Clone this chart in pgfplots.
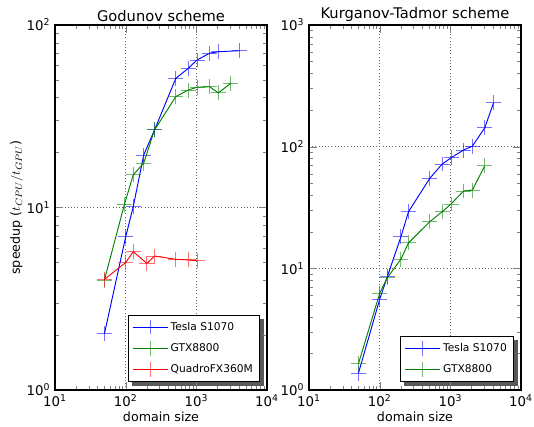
\documentclass[border=0pt]{standalone}
\usepackage{fontspec}
\setmainfont{DejaVu Sans}
\usepackage{pgfplots}
\pgfplotsset{compat=1.18}
\usetikzlibrary{backgrounds}

\definecolor{mplblue}{RGB}{0,0,255}
\definecolor{mplgreen}{RGB}{0,128,0}
\definecolor{mplred}{RGB}{255,0,0}

\pgfplotsset{
  every axis/.append style={
    scale only axis,
    width=159pt, height=273.75pt,
    xmin=10, xmax=10000,
    xtick={10,100,1000,10000},
    xticklabels={10\textsuperscript{1},10\textsuperscript{2},10\textsuperscript{3},10\textsuperscript{4}},
    tick align=inside,
    tick pos=both,
    major tick length=6pt,
    minor tick length=3pt,
    axis line style={black, line width=0.8pt},
    grid=major,
    major grid style={black!60, dotted, line width=0.5pt},
    tick label style={font=\fontsize{10}{11}\selectfont},
    label style={font=\fontsize{9.5}{10}\selectfont},
    title style={font=\fontsize{11}{12}\selectfont, yshift=-7pt},
    xlabel={domain size},
    xlabel style={yshift=3pt},
    legend cell align=left,
    legend style={font=\fontsize{8}{9.5}\selectfont, draw=black, line width=0.8pt, fill=white,
      row sep=4.5pt, inner xsep=3pt, inner ysep=3pt},
  },
  run/.style={line width=0.7pt, mark=+, mark size=5.6pt,
    mark options={solid, line width=0.7pt, opacity=0.55}},
}
\pgfplotsset{
  legend image code/.code={
    \draw[#1] (0pt,0pt) -- (26pt,0pt);
    \draw[#1, only marks] plot coordinates {(13pt,0pt)};
  },
}

\begin{document}
\begin{tikzpicture}
\useasboundingbox (-41.25pt,-27.75pt) rectangle (359.25pt,292.5pt);

\begin{loglogaxis}[
  ymin=1, ymax=100,
  ytick={1,10,100},
  yticklabels={10\textsuperscript{0},10\textsuperscript{1},10\textsuperscript{2}},
  title={Godunov scheme},
  ylabel={speedup ($t_{CPU}/t_{GPU}$)},
  ylabel style={yshift=-4pt},
  legend style={at={(0.967,0.022)}, anchor=south east, name=legA},
]
\addplot[run, color=mplblue] coordinates {
  (50,2.03) (100,6.9) (128,10.1) (180,19.4) (256,26.6) (512,51) (768,57.9)
  (1024,64.3) (1536,70) (2048,71.4) (4096,72.3)
};
\addlegendentry{Tesla S1070}
\addplot[run, color=mplgreen] coordinates {
  (50,4.0) (96,10.4) (128,15.1) (180,17.5) (256,26.6) (512,40.5) (768,44)
  (1024,45.6) (1536,45.9) (2048,42.5) (3072,47.9)
};
\addlegendentry{GTX8800}
\addplot[run, color=mplred] coordinates {
  (50,4.04) (100,4.99) (128,5.73) (200,4.94) (256,5.42) (512,5.2) (768,5.16) (1024,5.12)
};
\addlegendentry{QuadroFX360M}
\end{loglogaxis}

\begin{loglogaxis}[xshift=190.5pt,
  ymin=1, ymax=1000,
  ytick={1,10,100,1000},
  yticklabels={10\textsuperscript{0},10\textsuperscript{1},10\textsuperscript{2},10\textsuperscript{3}},
  title={Kurganov-Tadmor scheme},
  legend style={at={(0.967,0.022)}, anchor=south east, name=legB},
]
\addplot[run, color=mplblue] coordinates {
  (50,1.37) (100,5.56) (128,8.5) (200,18.2) (256,29.2) (512,55) (768,72)
  (1024,81) (1536,93.8) (2048,101) (3072,143) (4096,230)
};
\addlegendentry{Tesla S1070}
\addplot[run, color=mplgreen] coordinates {
  (50,1.64) (100,6.23) (128,8.37) (200,11.9) (256,16.2) (512,24.2) (768,29.2)
  (1024,33.8) (1536,43.2) (2048,44) (3072,69.7)
};
\addlegendentry{GTX8800}
\end{loglogaxis}

\begin{scope}[on background layer]
  \fill[black!65] ([shift={(3pt,-3pt)}]legA.south west) rectangle ([shift={(3pt,-3pt)}]legA.north east);
  \fill[black!65] ([shift={(3pt,-3pt)}]legB.south west) rectangle ([shift={(3pt,-3pt)}]legB.north east);
\end{scope}
\end{tikzpicture}
\end{document}
